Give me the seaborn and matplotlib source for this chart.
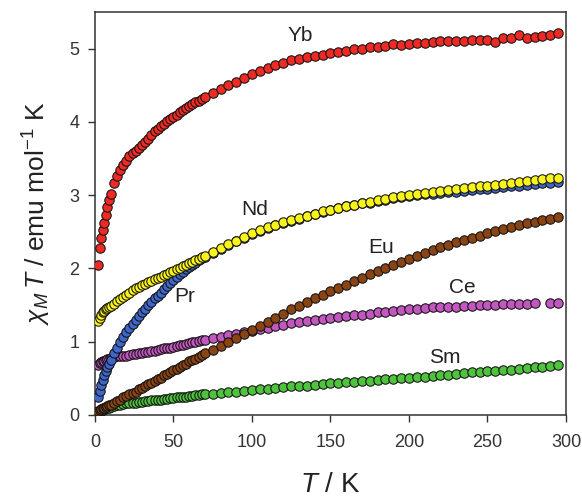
import numpy as np
import pandas as pd
import matplotlib
matplotlib.use("Agg")
import matplotlib.pyplot as plt
import seaborn as sns

# ---------------- data ----------------
T = [2, 3, 4, 5, 6, 7, 8, 9, 10,
     12, 14, 16, 18, 20, 22, 24, 26, 28, 30, 32, 34, 36, 38, 40, 42, 44, 46, 48, 50,
     52, 54, 56, 58, 60, 62, 64, 66, 68, 70,
     75, 80, 85, 90, 95, 100, 105, 110, 115, 120, 125, 130, 135, 140, 145, 150,
     155, 160, 165, 170, 175, 180, 185, 190, 195, 200, 205, 210, 215, 220, 225,
     230, 235, 240, 245, 250, 255, 260, 265, 270, 275, 280, 285, 290, 295]

Yb = [2.05, 2.28, 2.42, 2.52, 2.62, 2.73, 2.84, 2.94, 3.02,
      3.17, 3.26, 3.34, 3.41, 3.47, 3.53, 3.57, 3.61, 3.65, 3.69,
      3.73, 3.77, 3.82, 3.87, 3.91, 3.94, 3.97, 4.01, 4.04, 4.07,
      4.10, 4.13, 4.16, 4.19, 4.22, 4.24, 4.27, 4.29, 4.31, 4.34,
      4.40, 4.45, 4.50, 4.55, 4.60, 4.65, 4.70, 4.74, 4.78, 4.81,
      4.84, 4.86, 4.88, 4.90, 4.92, 4.94, 4.96, 4.97, 4.99, 5.00,
      5.02, 5.03, 5.04, 5.06, 5.05, 5.07, 5.08, 5.08, 5.09, 5.10,
      5.10, 5.11, 5.11, 5.12, 5.12, 5.12, 5.09, 5.14, 5.15, 5.19,
      5.15, 5.16, 5.18, 5.19, 5.21]

Nd = [1.28, 1.33, 1.37, 1.40, 1.42, 1.44, 1.46, 1.47, 1.49,
      1.52, 1.55, 1.58, 1.61, 1.64, 1.67, 1.70, 1.73, 1.75, 1.77,
      1.79, 1.81, 1.83, 1.85, 1.87, 1.89, 1.91, 1.93, 1.95, 1.97,
      1.99, 2.01, 2.03, 2.05, 2.07, 2.09, 2.11, 2.13, 2.15, 2.17,
      2.22, 2.28, 2.33, 2.38, 2.43, 2.48, 2.52, 2.56, 2.60, 2.63,
      2.66, 2.69, 2.72, 2.75, 2.78, 2.80, 2.83, 2.85, 2.87, 2.89,
      2.91, 2.93, 2.95, 2.97, 2.99, 3.00, 3.02, 3.03, 3.04, 3.06,
      3.07, 3.09, 3.10, 3.11, 3.12, 3.13, 3.14, 3.15, 3.17, 3.18,
      3.19, 3.21, 3.22, 3.23, 3.24]

Pr = [0.25, 0.33, 0.41, 0.48, 0.54, 0.60, 0.65, 0.70, 0.75,
      0.84, 0.92, 0.99, 1.06, 1.13, 1.19, 1.24, 1.29, 1.35, 1.40,
      1.45, 1.50, 1.54, 1.59, 1.63, 1.67, 1.72, 1.76, 1.80, 1.84,
      1.88, 1.92, 1.95, 1.99, 2.02, 2.05, 2.08, 2.11, 2.14, 2.16,
      2.21, 2.27, 2.32, 2.37, 2.42, 2.47, 2.51, 2.55, 2.59, 2.62,
      2.65, 2.68, 2.71, 2.74, 2.77, 2.80, 2.82, 2.85, 2.87, 2.89,
      2.90, 2.92, 2.94, 2.96, 2.97, 2.99, 3.00, 3.01, 3.02, 3.03,
      3.04, 3.05, 3.06, 3.07, 3.08, 3.09, 3.10, 3.11, 3.12, 3.13,
      3.14, 3.15, 3.16, 3.17, 3.18]

Ce = [0.68, 0.71, 0.72, 0.73, 0.74, 0.75, 0.76, 0.77, 0.78,
      0.79, 0.80, 0.80, 0.81, 0.81, 0.82, 0.83, 0.83, 0.84, 0.85,
      0.86, 0.86, 0.87, 0.88, 0.89, 0.90, 0.91, 0.91, 0.92, 0.93,
      0.94, 0.95, 0.96, 0.97, 0.98, 0.99, 1.00, 1.01, 1.02, 1.03,
      1.05, 1.07, 1.09, 1.11, 1.13, 1.15, 1.17, 1.19, 1.21, 1.23,
      1.25, 1.27, 1.28, 1.30, 1.31, 1.33, 1.34, 1.35, 1.36, 1.37,
      1.38, 1.40, 1.41, 1.42, 1.43, 1.44, 1.45, 1.46, 1.47, 1.47,
      1.48, 1.48, 1.49, 1.49, 1.50, 1.50, 1.50, 1.51, 1.51, 1.52,
      1.52, 1.53, np.nan, 1.53, 1.53]

Eu = [0.06, 0.07, 0.08, 0.09, 0.10, 0.11, 0.12, 0.13, 0.14,
      0.17, 0.19, 0.21, 0.24, 0.26, 0.28, 0.30, 0.32, 0.35, 0.37,
      0.39, 0.42, 0.44, 0.46, 0.49, 0.51, 0.54, 0.56, 0.58, 0.61,
      0.63, 0.66, 0.68, 0.70, 0.73, 0.75, 0.77, 0.79, 0.82, 0.84,
      0.89, 0.94, 1.00, 1.05, 1.11, 1.16, 1.22, 1.27, 1.33, 1.38,
      1.44, 1.49, 1.54, 1.59, 1.64, 1.69, 1.74, 1.78, 1.83, 1.87,
      1.92, 1.96, 2.00, 2.05, 2.09, 2.13, 2.17, 2.21, 2.25, 2.29,
      2.32, 2.36, 2.39, 2.42, 2.45, 2.48, 2.51, 2.54, 2.57, 2.60,
      2.62, 2.64, 2.66, 2.68, 2.70]

Sm = [0.03, 0.05, 0.06, 0.07, 0.08, 0.09, 0.10, 0.10, 0.11,
      0.12, 0.13, 0.14, 0.15, 0.16, 0.16, 0.17, 0.17, 0.18, 0.18,
      0.19, 0.19, 0.20, 0.20, 0.21, 0.21, 0.22, 0.22, 0.23, 0.23,
      0.24, 0.24, 0.25, 0.25, 0.26, 0.26, 0.27, 0.27, 0.28, 0.28,
      0.29, 0.30, 0.31, 0.32, 0.33, 0.34, 0.35, 0.36, 0.37, 0.38,
      0.39, 0.39, 0.40, 0.41, 0.42, 0.43, 0.44, 0.45, 0.45, 0.46,
      0.47, 0.48, 0.49, 0.49, 0.50, 0.51, 0.52, 0.52, 0.53, 0.54,
      0.55, 0.56, 0.57, 0.58, 0.59, 0.60, 0.60, 0.61, 0.62, 0.63,
      0.64, 0.65, 0.66, 0.67, 0.68]

# series in drawing order (bottom to top)
series_names = ["Sm", "Ce", "Eu", "Pr", "Nd", "Yb"]
series_values = [Sm, Ce, Eu, Pr, Nd, Yb]
series_colors = ["#4fc23e", "#c257c0", "#8a4414", "#3f66c8", "#f8f31a", "#ee2a24"]

# labels and their anchor positions (T, chiT)
label_text = ["Yb", "Nd", "Pr", "Eu", "Ce", "Sm"]
label_T = [131, 102, 57, 182, 234, 223]
label_v = [5.18, 2.80, 1.62, 2.28, 1.74, 0.79]

x_ticks = [0, 50, 100, 150, 200, 250, 300]
y_ticks = [0, 1, 2, 3, 4, 5]

# ---------------- plot ----------------
sns.set_style("ticks")
plt.rcParams["font.family"] = ["Liberation Sans", "DejaVu Sans"]
plt.rcParams["mathtext.fontset"] = "custom"
plt.rcParams["mathtext.rm"] = "Liberation Sans"
plt.rcParams["mathtext.it"] = "Liberation Sans:italic"
plt.rcParams["mathtext.bf"] = "Liberation Sans:bold"

fig = plt.figure(figsize=(5.82, 5.03), dpi=100)
ax = fig.add_axes([0.163, 0.175, 0.8095, 0.801])

for name, vals, col in zip(series_names, series_values, series_colors):
    df = pd.DataFrame({"T": T, "chiT": vals}).dropna()
    sns.scatterplot(data=df, x="T", y="chiT", ax=ax, color=col, s=46,
                    edgecolor="#111111", linewidth=0.75, legend=False,
                    zorder=3)

for t, x, y in zip(label_text, label_T, label_v):
    ax.text(x, y, t, fontsize=15, color="#222222", ha="center", va="center")

ax.set_xlim(0, 300)
ax.set_ylim(0, 5.5)
ax.set_xticks(x_ticks)
ax.set_yticks(y_ticks)
ax.tick_params(axis="both", direction="out", length=5, width=1.0,
               labelsize=13, colors="#333333")
ax.tick_params(axis="x", pad=9)
ax.tick_params(axis="y", pad=6)
for sp in ax.spines.values():
    sp.set_visible(True)
    sp.set_color("#333333")
    sp.set_linewidth(1.1)

ax.set_xlabel(r"$T$ / K", fontsize=20, color="#222222", labelpad=15)
ax.set_ylabel(r"$\chi_M\,T$ / emu mol$^{-1}$ K", fontsize=19, color="#222222",
              labelpad=12)

fig.savefig("out.png", dpi=100)
